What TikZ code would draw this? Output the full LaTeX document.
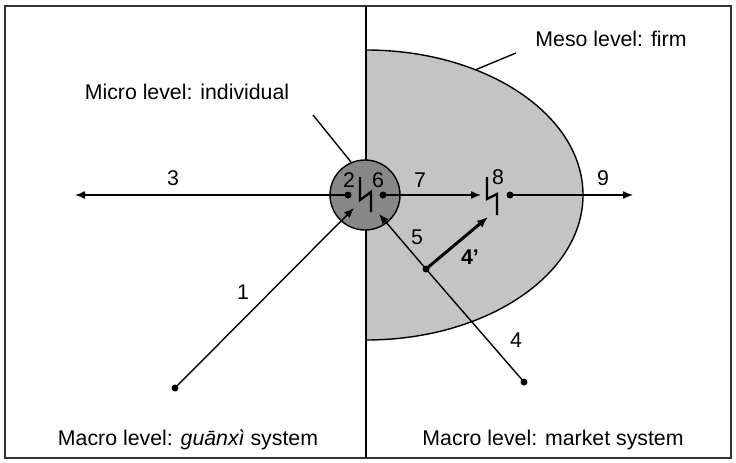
\documentclass[tikz,border=0pt]{standalone}
\usepackage{fontspec}
\setmainfont{Liberation Sans}
\usetikzlibrary{arrows.meta}
\begin{document}
\begin{tikzpicture}[x=1pt,y=-1pt,
  ln/.style={line width=1.4pt},
  arr/.style={ln,-{Latex[length=10pt,width=8pt]}},
  dot/.style={circle,fill,inner sep=0pt,minimum size=7pt},
  bolt/.style={line width=2.4pt},
  lbl/.style={inner sep=0pt,anchor=base,font=\fontsize{21.3}{25}\selectfont}]
\useasboundingbox (0,0) rectangle (736,463);
% meso ellipse
\fill[black!23] (366,50) arc[start angle=90,end angle=-90,x radius=217pt,y radius=145pt] -- cycle;
\draw[ln] (366,50) arc[start angle=90,end angle=-90,x radius=217pt,y radius=145pt];
% frame and divider
\draw[line width=1.8pt,black!80] (5,6) rectangle (731,458);
\coordinate (dtop) at (366,6);
\coordinate (dbot) at (366,458);
\draw[ln] (dtop) -- (dbot);
% micro circle
\node[circle,draw,ln,fill=black!47,minimum size=70pt,inner sep=0pt] (micro) at (365,195) {};
% dots
\node[dot] (d2) at (348,195) {};
\node[dot] (d6) at (383,195) {};
\node[dot] (d9) at (510,195) {};
\node[dot] (d1) at (175,388) {};
\node[dot] (d4) at (524,382) {};
\node[dot] (dj) at (426,269) {};
% arrow ends
\coordinate (t3) at (75,195);
\coordinate (t7) at (481,195);
\coordinate (t9) at (633,195);
\coordinate (t1) at (354,208);
\coordinate (t5) at (379,214);
\coordinate (t4p) at (488,217);
\draw[arr] (d2.center) -- (t3);
\draw[arr] (d6.center) -- (t7);
\draw[arr] (d9.center) -- (t9);
\draw[arr] (d1.center) -- (t1);
\draw[ln] (d4.center) -- (dj.center);
\draw[arr] (dj.center) -- (t5);
\draw[line width=3pt,-{Latex[length=11pt,width=9pt]}] (dj.center) -- (t4p);
% lightning bolts
\draw[bolt] (360,177) -- (360,200) -- (371,192) -- (371,212);
\draw[bolt] (487,177) -- (487,199) -- (497,194) -- (497,215);
% label leader lines
\coordinate (mlt) at (313,115);
\draw[ln] (mlt) -- (micro.113);
\coordinate (mes1) at (475,70);
\coordinate (mes2) at (516,53);
\draw[ln] (mes1) -- (mes2);
% labels
\node[lbl] (lmicro) at (187,99.5) {Micro level: individual};
\node[lbl] (lmeso) at (611,46.5) {Meso level: firm};
\node[lbl] (lguanxi) at (188,445.5) {Macro level: \textit{guānxì} system};
\node[lbl] (lmarket) at (553,445.5) {Macro level: market system};
\node[lbl] (n1) at (243,299.5) {1};
\node[lbl] (n2) at (349,187.5) {2};
\node[lbl] (n3) at (173,185.5) {3};
\node[lbl] (n4) at (516,347.5) {4};
\node[lbl,font=\fontsize{21.3}{25}\selectfont\bfseries] (n4p) at (470,264.5) {4'};
\node[lbl] (n5) at (417,244.5) {5};
\node[lbl] (n6) at (378,187.5) {6};
\node[lbl] (n7) at (420,187.5) {7};
\node[lbl] (n8) at (498,184.5) {8};
\node[lbl] (n9) at (603,185.5) {9};
\end{tikzpicture}
\end{document}
